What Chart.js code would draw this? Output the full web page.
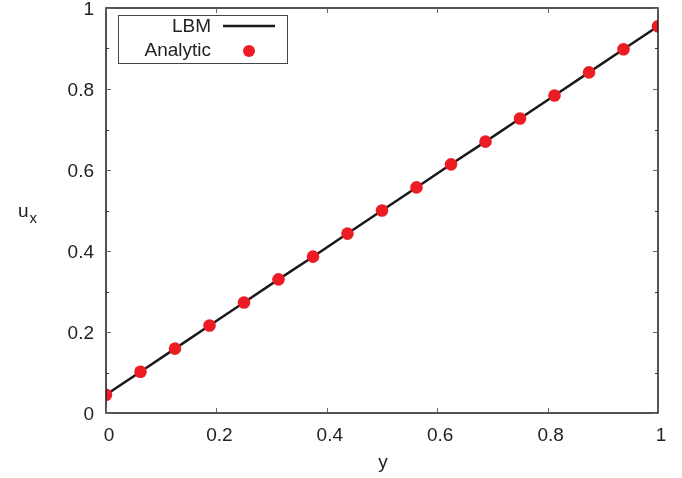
<!DOCTYPE html>
<html><head><meta charset="utf-8">
<script src="https://cdn.jsdelivr.net/npm/chart.js@4/dist/chart.umd.min.js"></script>
<style>html,body{margin:0;padding:0;background:#fff}#c{display:block}</style>
</head><body>
<canvas id="c" width="682" height="478"></canvas>
<script>
const yPos = [0, 0.0625, 0.125, 0.1875, 0.25, 0.3125, 0.375, 0.4375, 0.5, 0.5625, 0.625, 0.6875, 0.75, 0.8125, 0.875, 0.9375, 1];
const lbmUx = [0.045, 0.102, 0.159, 0.216, 0.273, 0.330, 0.386, 0.443, 0.5, 0.557, 0.614, 0.670, 0.727, 0.784, 0.841, 0.898, 0.955];
const analyticUx = [0.045, 0.102, 0.159, 0.216, 0.273, 0.330, 0.386, 0.443, 0.5, 0.557, 0.614, 0.670, 0.727, 0.784, 0.841, 0.898, 0.955];
const xTicks = [0, 0.2, 0.4, 0.6, 0.8, 1];
const yTicks = [0, 0.2, 0.4, 0.6, 0.8, 1];
const yMinorTicks = [0.1, 0.3, 0.5, 0.7, 0.9];
const seriesNames = ['LBM', 'Analytic'];
const xTitle = 'y';
const yTitleMain = 'u', yTitleSub = 'x';

const FONT = '"Liberation Sans", Arial, sans-serif';
const RED = '#ec1c24';
const LINE = '#1a1a1a';

const frame = {
  id: 'frame',
  afterDatasetsDraw(chart) {
    const ctx = chart.ctx, a = chart.chartArea;
    const xs = chart.scales.x, ys = chart.scales.y;
    ctx.save();
    ctx.strokeStyle = '#1a1a1a';
    ctx.lineWidth = 1.5;
    ctx.strokeRect(a.left, a.top, a.right - a.left, a.bottom - a.top);
    ctx.lineWidth = 1;
    ctx.strokeStyle = '#666';
    const tl = 5, tm = 3;
    xTicks.forEach(v => {
      const p = Math.round(xs.getPixelForValue(v)) + 0.5;
      ctx.beginPath(); ctx.moveTo(p, a.bottom); ctx.lineTo(p, a.bottom - tl);
      ctx.moveTo(p, a.top); ctx.lineTo(p, a.top + tl); ctx.stroke();
    });
    yTicks.forEach(v => {
      const p = Math.round(ys.getPixelForValue(v)) + 0.5;
      ctx.beginPath(); ctx.moveTo(a.left, p); ctx.lineTo(a.left + tl, p);
      ctx.moveTo(a.right, p); ctx.lineTo(a.right - tl, p); ctx.stroke();
    });
    ctx.strokeStyle = '#333';
    yMinorTicks.forEach(v => {
      const p = Math.round(ys.getPixelForValue(v)) + 0.5;
      ctx.beginPath(); ctx.moveTo(a.left, p); ctx.lineTo(a.left + tm, p);
      ctx.moveTo(a.right, p); ctx.lineTo(a.right - tm, p); ctx.stroke();
    });
    // axis titles
    ctx.fillStyle = '#222';
    ctx.font = '19px ' + FONT;
    ctx.textAlign = 'center'; ctx.textBaseline = 'middle';
    ctx.fillText(xTitle, 383, 463);
    ctx.textAlign = 'left'; ctx.textBaseline = 'alphabetic';
    ctx.fillText(yTitleMain, 18, 217);
    const w = ctx.measureText(yTitleMain).width;
    ctx.font = '15px ' + FONT;
    ctx.fillText(yTitleSub, 18 + w + 1, 223);
    // legend
    const lx = 118, ly = 15, lw = 169, lh = 48;
    ctx.fillStyle = '#fff';
    ctx.fillRect(lx, ly, lw, lh);
    ctx.strokeStyle = '#444'; ctx.lineWidth = 1;
    ctx.strokeRect(lx + 0.5, ly + 0.5, lw, lh);
    ctx.fillStyle = '#222';
    ctx.font = '19px ' + FONT;
    ctx.textAlign = 'right'; ctx.textBaseline = 'middle';
    ctx.fillText(seriesNames[0], 211, 27);
    ctx.fillText(seriesNames[1], 211, 51);
    ctx.strokeStyle = LINE; ctx.lineWidth = 2.5;
    ctx.beginPath(); ctx.moveTo(223, 26); ctx.lineTo(275, 26); ctx.stroke();
    ctx.fillStyle = RED;
    ctx.beginPath(); ctx.arc(249, 51, 6, 0, Math.PI * 2); ctx.fill();
    ctx.restore();
  }
};

new Chart(document.getElementById('c'), {
  type: 'scatter',
  data: {
    datasets: [
      {
        label: seriesNames[1],
        data: yPos.map((x, i) => ({ x, y: analyticUx[i] })),
        backgroundColor: RED, borderColor: RED, pointRadius: 6.3, pointBorderWidth: 0,
        order: 1
      },
      {
        label: seriesNames[0],
        data: yPos.map((x, i) => ({ x, y: lbmUx[i] })),
        showLine: true, borderColor: LINE, borderWidth: 2.5, pointRadius: 0,
        order: 2
      }
    ]
  },
  options: {
    responsive: false, animation: false,
    layout: { padding: { left: 0, right: 24, top: 8, bottom: 0 } },
    plugins: { legend: { display: false }, tooltip: { enabled: false } },
    scales: {
      x: {
        type: 'linear', min: 0, max: 1,
        afterBuildTicks: s => { s.ticks = xTicks.map(v => ({ value: v })); },
        afterFit: s => { s.height = 65; s.paddingLeft = 0; s.paddingRight = 0; },
        grid: { display: false, drawTicks: false }, border: { display: false },
        ticks: { color: '#222', font: { family: FONT, size: 19 }, padding: 11, maxRotation: 0,
          labelOffset: 3, callback: v => String(v) }
      },
      y: {
        type: 'linear', min: 0, max: 1,
        afterBuildTicks: s => { s.ticks = yTicks.map(v => ({ value: v })); },
        afterFit: s => { s.width = 106; s.paddingTop = 0; s.paddingBottom = 0; },
        grid: { display: false, drawTicks: false }, border: { display: false },
        ticks: { color: '#222', font: { family: FONT, size: 19 }, padding: 12,
          labelOffset: 1.5, callback: v => String(v) }
      }
    }
  },
  plugins: [frame]
});
</script>
</body></html>
